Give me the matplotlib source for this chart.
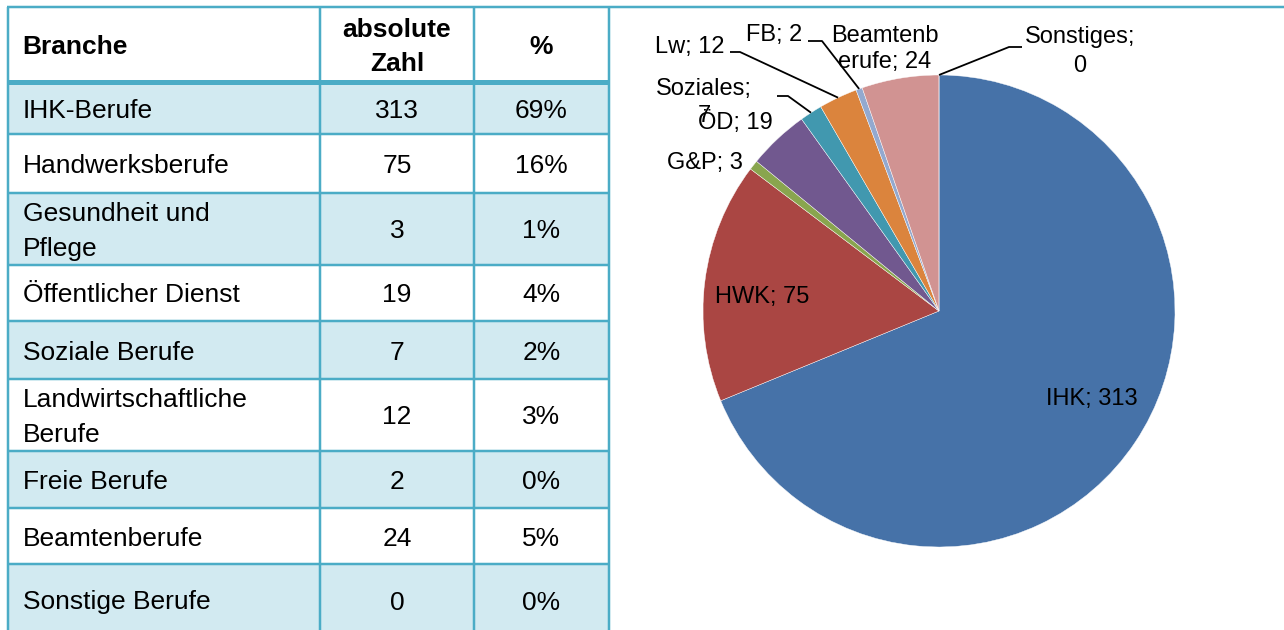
import matplotlib
matplotlib.use('Agg')
import matplotlib.pyplot as plt
from matplotlib.patches import Rectangle
import numpy as np

plt.rcParams['font.family'] = ['Liberation Sans', 'DejaVu Sans']

# ---------------- data ----------------
header = ['Branche', 'absolute\nZahl', '%']
branchen = ['IHK-Berufe', 'Handwerksberufe', 'Gesundheit und\nPflege',
            'Öffentlicher Dienst', 'Soziale Berufe',
            'Landwirtschaftliche\nBerufe', 'Freie Berufe', 'Beamtenberufe',
            'Sonstige Berufe']
absolute = [313, 75, 3, 19, 7, 12, 2, 24, 0]
prozent = ['69%', '16%', '1%', '4%', '2%', '3%', '0%', '5%', '0%']
pie_names = ['IHK', 'HWK', 'G&P', 'ÖD', 'Soziales', 'Lw', 'FB',
             'Beamtenberufe', 'Sonstiges']
pie_colors = ['#4672A8', '#AA4643', '#89A54E', '#71588F', '#4198AF',
              '#DB843D', '#93A9CF', '#D19392', '#B9CD96']

# ---------------- layout ----------------
W, H = 1284, 630
PX = 0.72  # points per pixel at dpi 100
border = '#4BACC6'
fill = '#D2EAF1'
col_x = [8, 320, 474, 609]
row_y = [7, 82, 134, 193, 265, 321, 379, 451, 508, 564, 636]
tab_size = 19
pie_size = 17

fig = plt.figure(figsize=(W / 100, H / 100), dpi=100)
ax = fig.add_axes([0, 0, 1, 1])


def put(x, yc, s, size, ha='center', weight='normal', lines_gap=None):
    """place text with visual (cap-height) centre at yc"""
    em = size / PX
    parts = s.split('\n')
    gap = lines_gap if lines_gap is not None else 1.33 * em
    n = len(parts)
    for k, p in enumerate(parts):
        y = yc + (k - (n - 1) / 2) * gap
        ax.text(x, y + 0.36 * em, p, fontsize=size, ha=ha, va='baseline',
                fontweight=weight, color='black')


# ---------------- table ----------------
for i in range(len(branchen)):
    y0, y1 = row_y[i + 1], row_y[i + 2]
    if i % 2 == 0:
        ax.add_patch(Rectangle((col_x[0], y0), col_x[-1] - col_x[0], y1 - y0,
                               facecolor=fill, edgecolor='none', zorder=0))
    yc = (y0 + y1) / 2
    put(23, yc, branchen[i], tab_size, ha='left')
    put((col_x[1] + col_x[2]) / 2, yc, str(absolute[i]), tab_size)
    put((col_x[2] + col_x[3]) / 2, yc, prozent[i], tab_size)

hy = (row_y[0] + row_y[1]) / 2
put(22, hy, header[0], tab_size, ha='left', weight='bold')
put((col_x[1] + col_x[2]) / 2, hy, header[1], tab_size, weight='bold',
    lines_gap=34)
put((col_x[2] + col_x[3]) / 2, hy, header[2], tab_size, weight='bold')

# horizontal lines
ax.plot([col_x[0] - 1, W], [row_y[0], row_y[0]], color=border, lw=2.5 * PX,
        solid_capstyle='butt', zorder=2)
ax.plot([col_x[0], col_x[-1]], [row_y[1], row_y[1]], color=border,
        lw=5 * PX, solid_capstyle='butt', zorder=2)
for y in row_y[2:]:
    ax.plot([col_x[0], col_x[-1]], [y, y], color=border, lw=2.5 * PX,
            solid_capstyle='butt', zorder=2)
for x in col_x:
    ax.plot([x, x], [row_y[0], row_y[-1]], color=border, lw=2.5 * PX,
            solid_capstyle='butt', zorder=2)

# ---------------- pie ----------------
cx, cy, R = 939, 311, 236
wedges, _ = ax.pie(absolute, colors=pie_colors, startangle=270,
                   counterclock=True, center=(cx, cy), radius=R,
                   wedgeprops=dict(edgecolor='white', linewidth=0.3))

ax.set_xlim(0, W)
ax.set_ylim(H, 0)
ax.set_aspect('auto')
ax.axis('off')


def mid_point(w):
    t = np.deg2rad((w.theta1 + w.theta2) / 2)
    return cx + R * np.cos(t), cy + R * np.sin(t)


# label texts
labels = [f'{n}; {v}' for n, v in zip(pie_names, absolute)]
labels[4] = f'{pie_names[4]};\n{absolute[4]}'
labels[7] = f'{pie_names[7][:8]}\n{pie_names[7][8:]}; {absolute[7]}'
labels[8] = f'{pie_names[8]};\n{absolute[8]}'

label_pos = [(1092, 397), (762, 294), (705, 160), (735, 121), (704, 100),
             (690, 45), (774, 32), (885, 46.5), (1080, 49.5)]
# leader lines: (elbow, end) for labels outside the pie
leaders = {4: ((788, 96), (777, 96)),
           5: ((740, 52), (730, 52)),
           6: ((822, 41), (808, 41)),
           8: ((1009, 47), (1022, 47))}

for i, (s, (x, y)) in enumerate(zip(labels, label_pos)):
    gap = 26 if i != 8 else 29
    put(x, y, s, pie_size, lines_gap=gap)
    if i in leaders:
        px_, py_ = mid_point(wedges[i])
        (ex, ey), (tx, ty) = leaders[i]
        ax.plot([px_, ex, tx], [py_, ey, ty], color='black', lw=1.8 * PX,
                zorder=3, solid_capstyle='butt')

fig.savefig('out.png', dpi=100)
